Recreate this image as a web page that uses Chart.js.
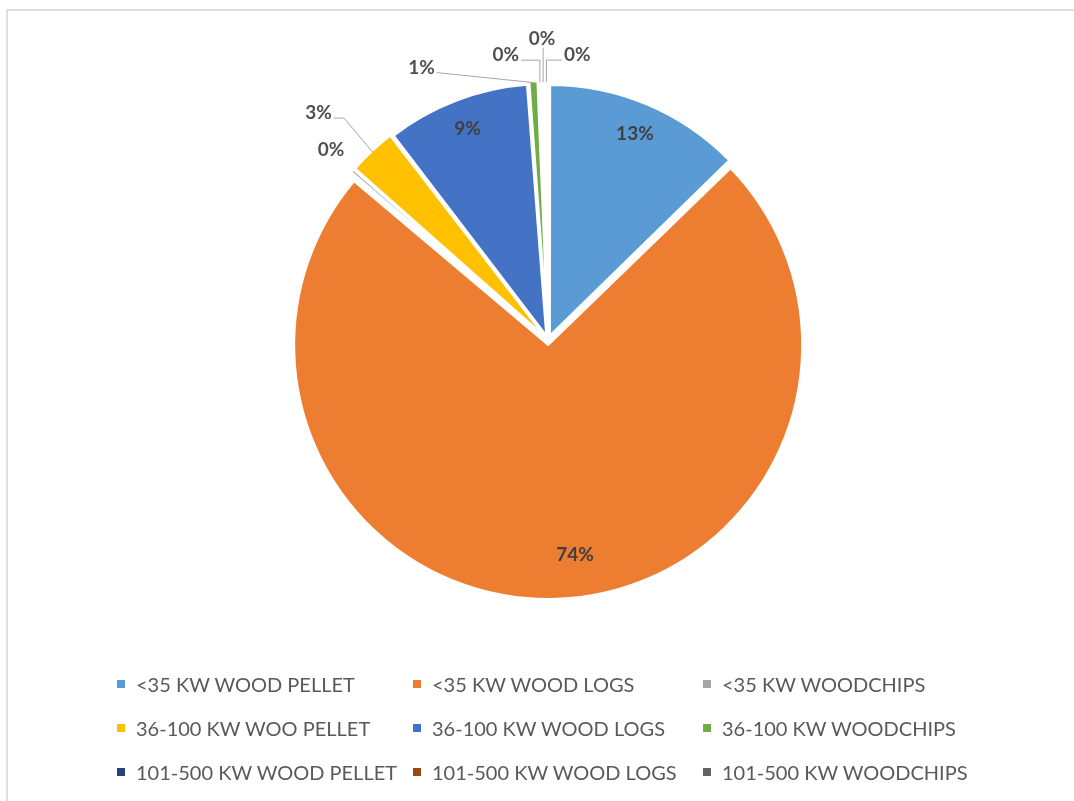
<!DOCTYPE html>
<html>
<head>
<meta charset="utf-8">
<script src="https://cdn.jsdelivr.net/npm/chart.js@4.4.0/dist/chart.umd.min.js"></script>
<style>
  html, body { margin: 0; padding: 0; background: #fff; }
  body { width: 1074px; height: 801px; position: relative; overflow: hidden; font-family: Lato, "Open Sans", sans-serif; }
  .frame { position: absolute; left: 6px; top: 9px; width: 1120px; height: 840px; border: 2px solid #dedede; box-sizing: border-box; }
  #pie { position: absolute; left: 0; top: 0; }
  #legend { position: absolute; left: 0; top: 0; width: 1074px; height: 801px; pointer-events: none; }
  .item { position: absolute; display: flex; align-items: center; height: 24px; margin-top: -12px;
          font-size: 20px; color: #595959; white-space: nowrap; }
  .item i { display: inline-block; width: 8px; height: 8px; margin-right: 11px; }
</style>
</head>
<body>
<div class="frame"></div>
<canvas id="pie" width="1074" height="680"></canvas>
<div id="legend"></div>
<script>
// Boiler installations by size class and fuel (share, %)
const categories = [
  '<35 KW WOOD PELLET', '<35 KW WOOD LOGS', '<35 KW WOODCHIPS',
  '36-100 KW WOO PELLET', '36-100 KW WOOD LOGS', '36-100 KW WOODCHIPS',
  '101-500 KW WOOD PELLET', '101-500 KW WOOD LOGS', '101-500 KW WOODCHIPS'
];
const shares = [12.7, 73.5, 0.3, 3.1, 9.2, 0.6, 0.2, 0.2, 0.2];
const sliceColors = [
  '#5B9BD5', '#ED7D31', '#A5A5A5',
  '#FFC000', '#4472C4', '#70AD47',
  '#264478', '#9E480E', '#636363'
];

// Legend grid: three columns, three rows
const legendColumns = [117, 413, 703];
const legendRows = [684, 728, 772];

// Where each percentage label sits: inside the slice (fraction of radius, angular nudge in degrees)
// or outside, offset from the slice's outer midpoint with a leader line
const labelPlacement = [
  { inside: true, r: 0.877, turn: 0 },
  { inside: true, r: 0.837, turn: -5.3 },
  { dx: -22, dy: -21, leader: 'none' },
  { dx: -54, dy: -39, leader: 'stub', side: 'right', stub: 10 },
  { inside: true, r: 0.883, turn: 0 },
  { dx: -112, dy: -15, leader: 'stub', side: 'right', stub: 0 },
  { dx: -34, dy: -27, leader: 'elbow', side: 'right' },
  { dx: -1, dy: -43, leader: 'below' },
  { dx: 31, dy: -27, leader: 'elbow', side: 'left' }
];

const sliceLabels = {
  id: 'sliceLabels',
  afterDatasetsDraw(chart) {
    const ctx = chart.ctx;
    const meta = chart.getDatasetMeta(0);
    const values = chart.data.datasets[0].data;
    const total = values.reduce((a, b) => a + b, 0);
    ctx.save();
    ctx.font = 'bold 19px Lato, "Open Sans", sans-serif';
    ctx.textAlign = 'center';
    ctx.textBaseline = 'middle';
    meta.data.forEach((arc, i) => {
      const p = arc.getProps(['x', 'y', 'startAngle', 'endAngle', 'outerRadius', 'circumference'], true);
      const opt = arc.options;
      const shift = (opt.offset || 0) / 4;
      const fix = 1 - Math.sin(Math.min(Math.PI, p.circumference));
      const mid = (p.startAngle + p.endAngle) / 2;
      const cx = p.x + Math.cos(mid) * shift;
      const cy = p.y + Math.sin(mid) * shift;
      const rad = p.outerRadius + shift * fix - (opt.borderWidth || 0) / 2;
      const text = Math.round(values[i] / total * 100) + '%';
      const pl = labelPlacement[i];
      if (pl.inside) {
        const a = mid + pl.turn * Math.PI / 180;
        ctx.fillStyle = '#404040';
        ctx.fillText(text, cx + Math.cos(a) * rad * pl.r, cy + Math.sin(a) * rad * pl.r);
        return;
      }
      const ax = cx + Math.cos(mid) * rad;
      const ay = cy + Math.sin(mid) * rad;
      const lx = ax + pl.dx;
      const ly = ay + pl.dy;
      const half = ctx.measureText(text).width / 2 + 2;
      const leaderY = ly + 5;
      ctx.strokeStyle = '#a6a6a6';
      ctx.lineWidth = 1;
      ctx.beginPath();
      if (pl.leader === 'stub') {
        const ex = pl.side === 'right' ? lx + half : lx - half;
        const sx = pl.side === 'right' ? ex + pl.stub : ex - pl.stub;
        ctx.moveTo(ex, leaderY); ctx.lineTo(sx, leaderY); ctx.lineTo(ax, ay);
      } else if (pl.leader === 'elbow') {
        const ex = pl.side === 'right' ? lx + half : lx - half;
        ctx.moveTo(ex, leaderY); ctx.lineTo(ax, leaderY); ctx.lineTo(ax, ay);
      } else if (pl.leader === 'below') {
        ctx.moveTo(ax, ly + 9); ctx.lineTo(ax, ay);
      }
      ctx.stroke();
      ctx.fillStyle = '#505050';
      ctx.fillText(text, lx, ly);
    });
    ctx.restore();
  }
};

const chart = new Chart(document.getElementById('pie'), {
  type: 'pie',
  data: {
    labels: categories,
    datasets: [{
      data: shares,
      backgroundColor: sliceColors,
      borderColor: '#ffffff',
      borderWidth: 2,
      offset: 20,
      hoverOffset: 20,
      radius: 249
    }]
  },
  options: {
    responsive: false,
    animation: false,
    events: [],
    layout: { padding: { left: 22 } },
    plugins: { legend: { display: false }, tooltip: { enabled: false } }
  },
  plugins: [sliceLabels]
});

// Legend built from the chart's own labels and colours
const legendEl = document.getElementById('legend');
chart.data.labels.forEach((label, i) => {
  const item = document.createElement('div');
  item.className = 'item';
  item.style.left = legendColumns[i % 3] + 'px';
  item.style.top = legendRows[Math.floor(i / 3)] + 'px';
  const box = document.createElement('i');
  box.style.background = chart.data.datasets[0].backgroundColor[i];
  item.appendChild(box);
  item.appendChild(document.createTextNode(label));
  legendEl.appendChild(item);
});
</script>
</body>
</html>
